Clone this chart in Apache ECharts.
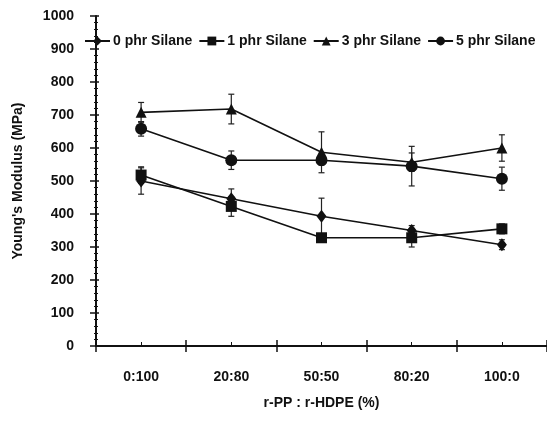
<!DOCTYPE html>
<html>
<head>
<meta charset="utf-8">
<script src="https://cdn.jsdelivr.net/npm/echarts@6/dist/echarts.min.js"></script>
<style>
    html, body { margin: 0; padding: 0; background: #fff; }
    #chart { width: 547px; height: 421px; }
</style>
</head>
<body>
<div id="chart"></div>
<script>
const categories = ['0:100', '20:80', '50:50', '80:20', '100:0']
const yTicks = [0, 100, 200, 300, 400, 500, 600, 700, 800, 900, 1000]

const silane0 = [500, 446, 393, 350, 307]
const silane0Err = [40, 30, 55, 15, 15]
const silane1 = [518, 423, 328, 328, 355]
const silane1Err = [25, 30, 10, 28, 15]
const silane3 = [708, 718, 587, 557, 600]
const silane3Err = [30, 45, 62, 28, 40]
const silane5 = [658, 563, 563, 545, 507]
const silane5Err = [22, 28, 15, 60, 35]

const font = 'Liberation Sans, Arial, sans-serif'

function lineSeries(name, data, symbol, size) {
    return {
        name: name,
        type: 'line',
        data: data,
        symbol: symbol,
        symbolSize: size,
        showAllSymbol: true,
        z: 3,
        lineStyle: { color: '#111', width: 1.6 },
        itemStyle: { color: '#111', borderWidth: 0 }
    }
}

function errorSeries(vals, errs) {
    return {
        type: 'custom',
        z: 2,
        silent: true,
        data: vals.map((v, i) => [i, v - errs[i], v + errs[i]]),
        renderItem: function (params, api) {
            const lo = api.coord([api.value(0), api.value(1)])
            const hi = api.coord([api.value(0), api.value(2)])
            const w = 3
            const style = { stroke: '#222', lineWidth: 1.2 }
            return {
                type: 'group',
                children: [
                    { type: 'line', shape: { x1: lo[0], y1: lo[1], x2: hi[0], y2: hi[1] }, style: style },
                    { type: 'line', shape: { x1: lo[0] - w, y1: lo[1], x2: lo[0] + w, y2: lo[1] }, style: style },
                    { type: 'line', shape: { x1: hi[0] - w, y1: hi[1], x2: hi[0] + w, y2: hi[1] }, style: style }
                ]
            }
        }
    }
}

const chart = echarts.init(document.getElementById('chart'))
chart.setOption({
    animation: false,
    grid: { left: 96, top: 16, width: 453, height: 330 },
    legend: {
        left: 84,
        top: 34,
        padding: 0,
        width: 470,
        itemWidth: 25,
        itemHeight: 11,
        itemGap: 6,
        textStyle: { fontFamily: font, fontWeight: 'bold', fontSize: 14, color: '#111', padding: [0, 0, 0, -2] },
        data: ['0 phr Silane', '1 phr Silane', '3 phr Silane', '5 phr Silane']
    },
    xAxis: [
        {
            type: 'category',
            data: categories,
            boundaryGap: true,
            name: 'r-PP : r-HDPE (%)',
            nameLocation: 'middle',
            nameGap: 50,
            nameTextStyle: { fontFamily: font, fontWeight: 'bold', fontSize: 14, color: '#111' },
            axisLine: { lineStyle: { color: '#111', width: 2 } },
            axisTick: { show: true, inside: false, length: 6, lineStyle: { color: '#111', width: 1.5 } },
            axisLabel: { margin: 24, fontFamily: font, fontWeight: 'bold', fontSize: 14, color: '#111' },
            splitLine: { show: false }
        },
        {
            type: 'category',
            data: categories,
            position: 'bottom',
            axisLine: { show: false },
            axisTick: { show: true, inside: true, length: 6, lineStyle: { color: '#111', width: 1.5 } },
            axisLabel: { show: false },
            splitLine: { show: false }
        },
        {
            type: 'category',
            data: categories,
            position: 'bottom',
            axisLine: { show: false },
            axisTick: { show: true, inside: true, alignWithLabel: true, length: 4, lineStyle: { color: '#111', width: 1 } },
            axisLabel: { show: false },
            splitLine: { show: false }
        }
    ],
    yAxis: [
        {
            type: 'value',
            min: yTicks[0],
            max: yTicks[yTicks.length - 1],
            interval: 100,
            name: "Young's Modulus (MPa)",
            nameLocation: 'middle',
            nameGap: 71,
            nameRotate: 90,
            nameTextStyle: { fontFamily: font, fontWeight: 'bold', fontSize: 14, color: '#111' },
            axisLine: { show: true, lineStyle: { color: '#111', width: 2 } },
            axisTick: { show: true, inside: false, length: 6, lineStyle: { color: '#111', width: 1.5 } },
            axisLabel: {
                margin: 22,
                fontFamily: font,
                fontWeight: 'bold',
                fontSize: 14,
                color: '#111',
                formatter: function (v) { return String(v) }
            },
            splitLine: { show: false }
        },
        {
            // inside ticks drawn from a mirrored axis placed on the left edge
            type: 'value',
            min: yTicks[0],
            max: yTicks[yTicks.length - 1],
            interval: 100,
            position: 'right',
            offset: -453,
            axisLine: { show: false },
            axisTick: { show: true, inside: false, length: 5, lineStyle: { color: '#111', width: 1.5 } },
            minorTick: { show: true, splitNumber: 5, length: 4, lineStyle: { color: '#111', width: 1 } },
            axisLabel: { show: false },
            splitLine: { show: false }
        }
    ],
    series: [
        errorSeries(silane0, silane0Err),
        errorSeries(silane1, silane1Err),
        errorSeries(silane3, silane3Err),
        errorSeries(silane5, silane5Err),
        lineSeries('0 phr Silane', silane0, 'diamond', [10, 13]),
        lineSeries('1 phr Silane', silane1, 'rect', 11),
        lineSeries('3 phr Silane', silane3, 'triangle', 11),
        lineSeries('5 phr Silane', silane5, 'circle', 12)
    ]
})
</script>
</body>
</html>
